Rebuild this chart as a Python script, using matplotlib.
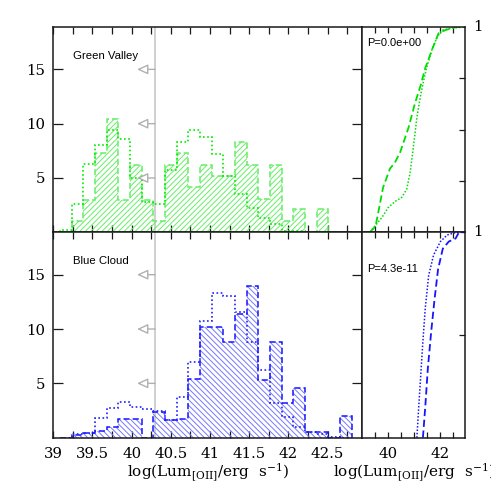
import numpy as np
import matplotlib
matplotlib.use("Agg")
import matplotlib.pyplot as plt

# ---------------- data ----------------
bin_start = 39.085
bin_width = 0.149
green_hatched = [0, 1.0, 3.0, 7.3, 10.4, 3.0, 6.2, 3.0, 1.0, 6.2, 7.3, 4.2, 6.2, 5.2,
                 5.2, 8.3, 6.2, 3.1, 6.2, 1.0, 2.1, 0, 2.1, 0, 0]
green_dotted = [0.2, 2.6, 6.3, 8.0, 9.4, 8.6, 5.0, 2.8, 2.6, 5.7, 8.3, 9.4, 8.8, 7.2,
                5.2, 3.5, 2.2, 1.3, 0.8, 0.15, 0.15, 0, 0, 0, 0]
blue_hatched = [0, 0.25, 0.45, 0.6, 0.95, 1.7, 1.7, 0, 2.4, 1.6, 1.7, 5.4, 10.2, 10.2,
                8.8, 11.35, 14.0, 5.3, 8.8, 3.16, 4.6, 0.55, 0.55, 0, 2.0]
blue_dotted = [0, 0.3, 0.45, 1.85, 2.75, 3.3, 2.8, 2.65, 2.45, 1.6, 3.7, 7.0, 10.7, 13.3,
               13.0, 11.6, 8.8, 6.2, 3.2, 1.95, 1.0, 0.55, 0.35, 0.05, 0]

green_dash_x = [39.30, 39.52, 39.81, 40.07, 40.26, 40.46, 40.78, 41.03, 41.23, 41.42,
                41.68, 41.93, 42.19, 42.60, 42.97]
green_dash_y = [0, 0.03, 0.22, 0.31, 0.34, 0.39, 0.51, 0.63, 0.71, 0.80, 0.89, 0.97,
                0.985, 1.0, 1.0]
green_dot_x = [39.30, 39.49, 39.75, 40.00, 40.26, 40.52, 40.71, 40.84, 40.97, 41.10,
               41.23, 41.36, 41.49, 41.68, 41.87, 42.07, 42.45, 42.97]
green_dot_y = [0, 0.03, 0.07, 0.12, 0.15, 0.17, 0.21, 0.29, 0.42, 0.56, 0.66, 0.74,
               0.81, 0.89, 0.95, 0.985, 0.995, 1.0]
blue_dot_x = [41.10, 41.16, 41.25, 41.33, 41.42, 41.55, 41.74, 42.00, 42.26, 42.60, 42.97]
blue_dot_y = [0, 0.13, 0.31, 0.47, 0.63, 0.79, 0.89, 0.955, 0.987, 1.0, 1.0]
blue_dash_x = [41.33, 41.42, 41.52, 41.65, 41.78, 41.91, 42.09, 42.32, 42.58, 42.71, 42.97]
blue_dash_y = [0, 0.15, 0.34, 0.52, 0.68, 0.82, 0.92, 0.955, 0.97, 1.0, 1.0]

limit_x = 40.30
arrow_levels = [5, 10, 15]
panel_names = ["Green Valley", "Blue Cloud"]
p_values = ["P=0.0e+00", "P=4.3e-11"]
xtick_vals = [39, 39.5, 40, 40.5, 41, 41.5, 42, 42.5]
xtick_labels = ["39", "39.5", "40", "40.5", "41", "41.5", "42", "42.5"]
cdf_tick_vals = [40, 42]
xlabel = r"log(Lum$_{\rm [OII]}$/erg  s$^{-1}$)"

# ---------------- style ----------------
plt.rcParams["font.family"] = ["DejaVu Serif"]
plt.rcParams["mathtext.fontset"] = "dejavuserif"
plt.rcParams["hatch.linewidth"] = 0.7
spine_col = "#1a1a1a"
tick_fs = 10.7

W = 491.0
fig = plt.figure(figsize=(4.91, 4.91), dpi=100)

def fx(px):
    return px / W

def fy(py):
    return 1 - py / W

left_x0, left_x1 = 53.2, 362.0
right_x0, right_x1 = 362.0, 465.0
rows = [(27.0, 232.3), (232.3, 437.7)]

xlim = (39.0, 42.94)
ylim = (0, 18.9)
edges = bin_start + bin_width * np.arange(len(green_hatched) + 1)

colors = [
    dict(hatch="#66ee66", dash="#66ee66", dot="#00ee00", cdf="#00dd00", hpat="//////"),
    dict(hatch="#7777ff", dash="#1515ff", dot="#2020ff", cdf="#1515ff",
         hpat="\\\\\\\\\\\\"),
]
hists = [(green_hatched, green_dotted), (blue_hatched, blue_dotted)]
cdfs = [((green_dash_x, green_dash_y), (green_dot_x, green_dot_y)),
        ((blue_dash_x, blue_dash_y), (blue_dot_x, blue_dot_y))]

for r, (y0, y1) in enumerate(rows):
    c = colors[r]
    hv, dv = hists[r]
    ax = fig.add_axes([fx(left_x0), fy(y1), fx(left_x1 - left_x0), (y1 - y0) / W])
    ax.set_xlim(*xlim)
    ax.set_ylim(*ylim)
    ax.axvline(limit_x, color="#cccccc", lw=1.3, zorder=1)
    ax.stairs(hv, edges, fill=True, facecolor="none", edgecolor=c["hatch"],
              hatch=c["hpat"], linewidth=0, zorder=2)
    ax.stairs(hv, edges, baseline=0, fill=False, color=c["dash"], lw=1.1,
              linestyle=(0, (4, 2)), zorder=3)
    ax.stairs(dv, edges, baseline=0, fill=False, color=c["dot"], lw=1.2,
              linestyle=(0, (1, 1.5)), zorder=3)
    for lv in arrow_levels:
        ax.annotate("", xy=(40.07, lv), xytext=(limit_x, lv),
                    arrowprops=dict(arrowstyle="-|>,head_length=0.65,head_width=0.3",
                                    fc="white", ec="#b0b0b0", lw=1.0,
                                    shrinkA=0, shrinkB=0), zorder=4)
    ax.text(39.25, 16.25, panel_names[r], family="Liberation Sans", fontsize=8.2,
            ha="left", va="center")
    ax.set_xticks(xtick_vals)
    ax.set_xticks(np.arange(39.25, 42.9, 0.5), minor=True)
    ax.set_yticks([5, 10, 15])
    if r == 1:
        ax.set_xticklabels(xtick_labels)
    else:
        ax.set_xticklabels([])
    ax.set_yticklabels(["5", "10", "15"])
    ax.tick_params(axis="x", which="both", direction="in", top=True, bottom=True,
                   length=5, width=0.9, color=spine_col, labelsize=tick_fs, pad=6.5)
    ax.tick_params(axis="y", which="both", direction="in", left=True, right=True,
                   length=7.5, width=0.9, color=spine_col, labelsize=tick_fs, pad=6)
    for s in ax.spines.values():
        s.set_color(spine_col)
        s.set_linewidth(1.1)
        s.set_zorder(5)

    # cdf panel
    ax2 = fig.add_axes([fx(right_x0), fy(y1), fx(right_x1 - right_x0), (y1 - y0) / W])
    ax2.set_xlim(*xlim)
    ax2.set_ylim(0, 1)
    (dx, dy), (ox, oy) = cdfs[r]
    ax2.plot(dx, dy, color=c["cdf"], lw=1.3, linestyle=(0, (4, 2)))
    ax2.plot(ox, oy, color=c["cdf"], lw=1.1, linestyle=(0, (1, 1.2)))
    ax2.text(39.21, 0.92 if r == 0 else 0.82, p_values[r], family="Liberation Sans",
             fontsize=8, ha="left", va="center")
    ax2.set_xticks(cdf_tick_vals)
    ax2.set_xticks(np.arange(39.5, 42.9, 0.5), minor=True)
    if r == 1:
        ax2.set_xticklabels([str(v) for v in cdf_tick_vals])
        ax2.set_yticks([0.5])
    else:
        ax2.set_xticklabels([])
        ax2.set_yticks([0.25, 0.5, 0.75])
    ax2.set_yticklabels([])
    ax2.tick_params(axis="x", which="both", direction="in", top=True, bottom=True,
                    length=4, width=0.9, color=spine_col, labelsize=tick_fs, pad=6.5)
    ax2.tick_params(axis="y", which="both", direction="in", left=False, right=True,
                    length=4, width=0.9, color=spine_col)
    ax2.text(1.13, 1.0, "1", transform=ax2.transAxes, ha="center", va="center",
             fontsize=tick_fs)
    for s in ax2.spines.values():
        s.set_color(spine_col)
        s.set_linewidth(1.1)

fig.text(fx((left_x0 + left_x1) / 2), fy(472.7), xlabel, ha="center", va="center",
         fontsize=11)
fig.text(fx((right_x0 + right_x1) / 2), fy(472.7), xlabel, ha="center", va="center",
         fontsize=11)

fig.savefig("out.png", dpi=100)
